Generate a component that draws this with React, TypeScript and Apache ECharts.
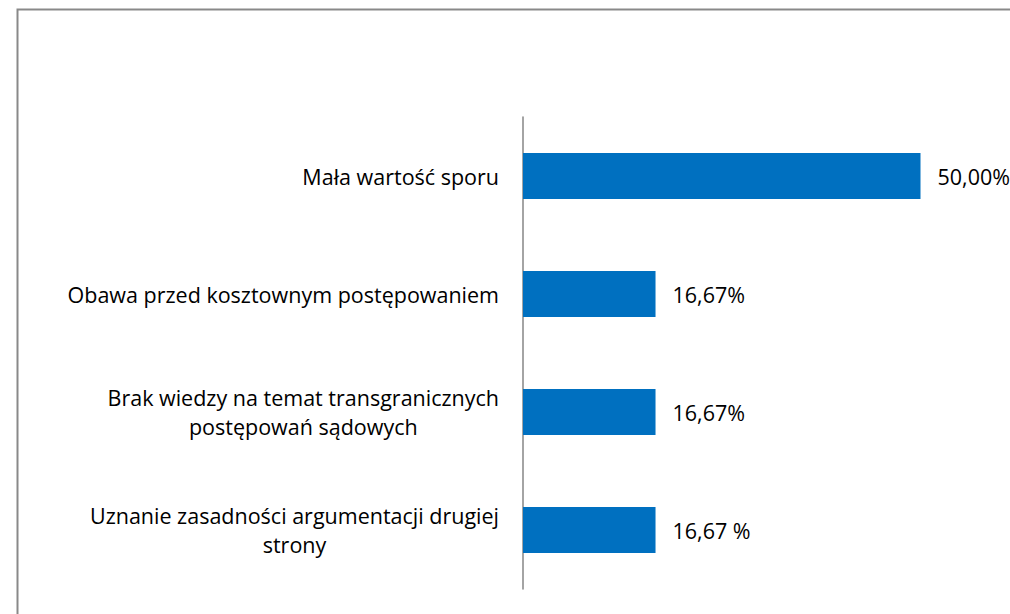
import React, { useEffect, useRef } from "react";
import * as echarts from "echarts";

const categories: string[] = [
  "Mała wartość sporu",
  "Obawa przed kosztownym postępowaniem",
  "Brak wiedzy na temat transgranicznych\npostępowań sądowych",
  "Uznanie zasadności argumentacji drugiej\nstrony",
];
const values: number[] = [50.0, 16.67, 16.67, 16.67];
const valueLabels: string[] = ["50,00%", "16,67%", "16,67%", "16,67 %"];
const axisMax = 60;

const FONT = "'Open Sans', 'Noto Sans', sans-serif";

export default function App() {
  const ref = useRef<HTMLDivElement>(null);
  useEffect(() => {
    if (!ref.current) return;
    const chart = echarts.init(ref.current, undefined, { renderer: "svg" });
    chart.setOption({
      animation: false,
      backgroundColor: "#ffffff",
      graphic: [
        {
          type: "rect",
          left: 15,
          top: 7,
          shape: { x: 0, y: 0, width: 1100, height: 700 },
          style: { fill: "none", stroke: "#898989", lineWidth: 2 },
          silent: true,
        },
      ],
      grid: { left: 523, right: 10, top: 117, bottom: 25, containLabel: false },
      xAxis: {
        type: "value",
        min: 0,
        max: axisMax,
        show: false,
      },
      yAxis: {
        type: "category",
        inverse: true,
        data: categories,
        axisLine: { show: true, lineStyle: { color: "#868686", width: 1.5 } },
        axisTick: { show: false },
        axisLabel: {
          margin: 24,
          align: "right",
          formatter: (v: string) =>
            v
              .split("\n")
              .map((l) => "{c|" + l + "}")
              .join("\n"),
          rich: {
            c: {
              align: "center",
              fontFamily: FONT,
              fontSize: 21.5,
              color: "#000000",
              lineHeight: 29,
            },
          },
        },
      },
      series: [
        {
          type: "bar",
          data: values,
          barWidth: 46,
          itemStyle: { color: "#0070C0" },
          label: {
            show: true,
            position: "right",
            distance: 17,
            formatter: (p: any) => valueLabels[p.dataIndex],
            fontFamily: FONT,
            fontSize: 21.5,
            color: "#000000",
          },
        },
      ],
    });
    return () => chart.dispose();
  }, []);
  return (
    <div
      ref={ref}
      style={{ position: "absolute", left: 0, top: 0, width: 1010, height: 614 }}
    />
  );
}
